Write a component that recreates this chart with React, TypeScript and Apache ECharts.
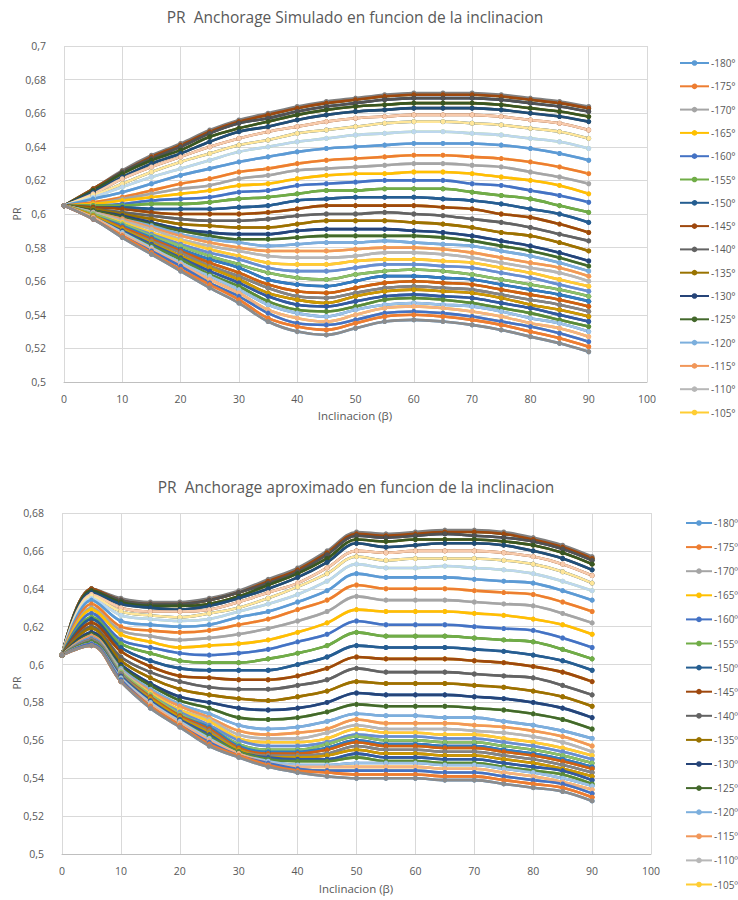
import React, { useEffect, useRef } from "react";
import * as echarts from "echarts";

// Inclination (beta) values on the x axis
const BETA = [0, 5, 10, 15, 20, 25, 30, 35, 40, 45, 50, 55, 60, 65, 70, 75, 80, 85, 90];

// Azimuth of each series (legend order)
const AZIMUTHS = [
  -180, -175, -170, -165, -160, -155, -150, -145, -140, -135, -130, -125, -120, -115, -110, -105,
  -100, -95, -90, -85, -80, -75, -70, -65, -60, -55, -50, -45, -40, -35, -30, -25, -20, -15, -10, -5,
  0, 5, 10, 15, 20, 25, 30, 35, 40, 45, 50, 55, 60, 65, 70, 75, 80, 85, 90, 95, 100, 105, 110, 115,
  120, 125, 130, 135, 140, 145, 150, 155, 160, 165, 170, 175, 180,
];

// Axis ranges
const Y1_MIN = 0.5, Y1_MAX = 0.7, Y2_MIN = 0.5, Y2_MAX = 0.68, Y_STEP = 0.02;
const X_MIN = 0, X_MAX = 100, X_STEP = 10;

// ---------- Chart 1: PR simulated, by |azimuth| ----------
const SIM_000 = [0.605, 0.615, 0.626, 0.635, 0.642, 0.650, 0.656, 0.660, 0.664, 0.667, 0.669, 0.671, 0.672, 0.672, 0.672, 0.671, 0.669, 0.667, 0.664];
const SIM_005 = [0.605, 0.615, 0.625, 0.634, 0.641, 0.649, 0.655, 0.659, 0.663, 0.666, 0.668, 0.670, 0.671, 0.671, 0.671, 0.670, 0.668, 0.666, 0.663];
const SIM_010 = [0.605, 0.614, 0.625, 0.633, 0.640, 0.648, 0.654, 0.657, 0.661, 0.664, 0.666, 0.668, 0.669, 0.669, 0.669, 0.668, 0.666, 0.664, 0.661];
const SIM_015 = [0.605, 0.614, 0.624, 0.632, 0.638, 0.646, 0.651, 0.655, 0.659, 0.662, 0.664, 0.665, 0.666, 0.666, 0.666, 0.665, 0.663, 0.661, 0.658];
const SIM_020 = [0.605, 0.613, 0.622, 0.630, 0.636, 0.643, 0.649, 0.652, 0.656, 0.659, 0.661, 0.662, 0.663, 0.663, 0.663, 0.662, 0.660, 0.658, 0.655];
const SIM_025 = [0.605, 0.612, 0.621, 0.628, 0.634, 0.640, 0.645, 0.649, 0.652, 0.655, 0.657, 0.658, 0.659, 0.659, 0.659, 0.658, 0.656, 0.654, 0.650];
const SIM_030 = [0.605, 0.611, 0.618, 0.625, 0.631, 0.636, 0.641, 0.644, 0.648, 0.650, 0.652, 0.654, 0.655, 0.655, 0.654, 0.653, 0.651, 0.649, 0.645];
const SIM_035 = [0.605, 0.610, 0.616, 0.622, 0.627, 0.632, 0.637, 0.640, 0.643, 0.645, 0.647, 0.648, 0.649, 0.649, 0.648, 0.647, 0.645, 0.643, 0.639];
const SIM_040 = [0.605, 0.609, 0.613, 0.618, 0.623, 0.627, 0.631, 0.634, 0.637, 0.639, 0.640, 0.641, 0.642, 0.642, 0.642, 0.641, 0.639, 0.636, 0.632];
const SIM_045 = [0.605, 0.607, 0.610, 0.614, 0.618, 0.621, 0.625, 0.627, 0.630, 0.632, 0.633, 0.634, 0.635, 0.635, 0.634, 0.633, 0.631, 0.628, 0.624];
const SIM_050 = [0.605, 0.606, 0.609, 0.612, 0.615, 0.617, 0.621, 0.623, 0.626, 0.627, 0.628, 0.629, 0.630, 0.630, 0.629, 0.628, 0.625, 0.622, 0.618];
const SIM_055 = [0.605, 0.606, 0.608, 0.610, 0.612, 0.614, 0.617, 0.618, 0.621, 0.623, 0.624, 0.624, 0.625, 0.625, 0.624, 0.622, 0.620, 0.617, 0.612];
const SIM_060 = [0.605, 0.605, 0.606, 0.608, 0.609, 0.610, 0.613, 0.614, 0.617, 0.618, 0.619, 0.620, 0.620, 0.620, 0.618, 0.617, 0.614, 0.611, 0.607];
const SIM_065 = [0.605, 0.605, 0.605, 0.606, 0.606, 0.607, 0.609, 0.610, 0.612, 0.614, 0.614, 0.615, 0.615, 0.615, 0.613, 0.611, 0.609, 0.605, 0.601];
const SIM_070 = [0.605, 0.604, 0.604, 0.603, 0.603, 0.603, 0.604, 0.605, 0.608, 0.609, 0.610, 0.610, 0.610, 0.609, 0.608, 0.606, 0.603, 0.600, 0.595];
const SIM_075 = [0.605, 0.604, 0.603, 0.601, 0.600, 0.600, 0.600, 0.601, 0.603, 0.605, 0.605, 0.605, 0.605, 0.604, 0.603, 0.600, 0.598, 0.594, 0.589];
const SIM_080 = [0.605, 0.603, 0.601, 0.599, 0.597, 0.596, 0.596, 0.597, 0.599, 0.600, 0.600, 0.601, 0.600, 0.599, 0.597, 0.595, 0.592, 0.588, 0.584];
const SIM_085 = [0.605, 0.603, 0.600, 0.597, 0.594, 0.593, 0.592, 0.592, 0.594, 0.596, 0.596, 0.596, 0.595, 0.594, 0.592, 0.589, 0.587, 0.583, 0.578];
const SIM_090 = [0.605, 0.602, 0.599, 0.595, 0.591, 0.589, 0.588, 0.588, 0.590, 0.591, 0.591, 0.591, 0.590, 0.589, 0.587, 0.584, 0.581, 0.577, 0.572];
const SIM_095 = [0.605, 0.602, 0.598, 0.594, 0.590, 0.587, 0.585, 0.585, 0.586, 0.587, 0.587, 0.587, 0.587, 0.586, 0.584, 0.581, 0.578, 0.574, 0.569];
const SIM_100 = [0.605, 0.601, 0.597, 0.593, 0.588, 0.585, 0.583, 0.581, 0.582, 0.583, 0.583, 0.584, 0.583, 0.582, 0.581, 0.578, 0.575, 0.571, 0.566];
const SIM_105 = [0.605, 0.601, 0.597, 0.592, 0.587, 0.583, 0.580, 0.578, 0.578, 0.578, 0.579, 0.580, 0.580, 0.579, 0.577, 0.574, 0.571, 0.568, 0.563];
const SIM_110 = [0.605, 0.601, 0.596, 0.591, 0.585, 0.581, 0.578, 0.575, 0.574, 0.574, 0.575, 0.577, 0.577, 0.576, 0.574, 0.571, 0.568, 0.565, 0.560];
const SIM_115 = [0.605, 0.600, 0.595, 0.589, 0.584, 0.579, 0.575, 0.571, 0.570, 0.570, 0.572, 0.573, 0.573, 0.572, 0.571, 0.568, 0.565, 0.561, 0.557];
const SIM_120 = [0.605, 0.600, 0.594, 0.588, 0.582, 0.577, 0.573, 0.568, 0.566, 0.566, 0.568, 0.570, 0.570, 0.569, 0.568, 0.565, 0.562, 0.558, 0.554];
const SIM_125 = [0.605, 0.600, 0.594, 0.587, 0.581, 0.575, 0.570, 0.565, 0.562, 0.561, 0.564, 0.566, 0.567, 0.566, 0.564, 0.561, 0.558, 0.555, 0.551];
const SIM_130 = [0.605, 0.599, 0.593, 0.586, 0.579, 0.573, 0.568, 0.561, 0.558, 0.557, 0.560, 0.563, 0.563, 0.562, 0.561, 0.558, 0.555, 0.552, 0.548];
const SIM_135 = [0.605, 0.599, 0.592, 0.585, 0.578, 0.571, 0.565, 0.558, 0.554, 0.553, 0.556, 0.559, 0.560, 0.559, 0.558, 0.555, 0.552, 0.549, 0.545];
const SIM_140 = [0.605, 0.599, 0.591, 0.584, 0.577, 0.569, 0.563, 0.556, 0.551, 0.550, 0.553, 0.556, 0.557, 0.556, 0.555, 0.552, 0.549, 0.546, 0.542];
const SIM_145 = [0.605, 0.599, 0.591, 0.583, 0.575, 0.568, 0.561, 0.553, 0.549, 0.547, 0.551, 0.554, 0.555, 0.554, 0.553, 0.550, 0.546, 0.543, 0.539];
const SIM_150 = [0.605, 0.598, 0.590, 0.582, 0.574, 0.566, 0.559, 0.551, 0.546, 0.545, 0.548, 0.551, 0.552, 0.551, 0.550, 0.547, 0.544, 0.540, 0.536];
const SIM_155 = [0.605, 0.598, 0.589, 0.581, 0.573, 0.564, 0.557, 0.548, 0.543, 0.542, 0.545, 0.549, 0.550, 0.549, 0.547, 0.544, 0.541, 0.537, 0.533];
const SIM_160 = [0.605, 0.598, 0.589, 0.580, 0.571, 0.563, 0.555, 0.546, 0.541, 0.539, 0.543, 0.546, 0.547, 0.546, 0.545, 0.542, 0.538, 0.535, 0.530];
const SIM_165 = [0.605, 0.598, 0.588, 0.579, 0.570, 0.561, 0.553, 0.543, 0.538, 0.536, 0.540, 0.544, 0.545, 0.544, 0.542, 0.539, 0.535, 0.532, 0.527];
const SIM_170 = [0.605, 0.597, 0.587, 0.578, 0.569, 0.559, 0.551, 0.541, 0.535, 0.534, 0.537, 0.541, 0.542, 0.541, 0.539, 0.536, 0.533, 0.529, 0.524];
const SIM_175 = [0.605, 0.597, 0.587, 0.577, 0.567, 0.558, 0.549, 0.538, 0.533, 0.531, 0.535, 0.539, 0.540, 0.539, 0.537, 0.534, 0.530, 0.526, 0.521];
const SIM_180 = [0.605, 0.597, 0.586, 0.576, 0.566, 0.556, 0.547, 0.536, 0.530, 0.528, 0.532, 0.536, 0.537, 0.536, 0.534, 0.531, 0.527, 0.523, 0.518];

// ---------- Chart 2: PR approximated, by |azimuth| ----------
const APX_000 = [0.605, 0.640, 0.635, 0.633, 0.633, 0.635, 0.639, 0.645, 0.651, 0.660, 0.670, 0.669, 0.670, 0.671, 0.671, 0.670, 0.667, 0.663, 0.657];
const APX_005 = [0.605, 0.640, 0.634, 0.632, 0.632, 0.634, 0.638, 0.644, 0.650, 0.659, 0.669, 0.668, 0.669, 0.670, 0.670, 0.669, 0.666, 0.662, 0.656];
const APX_010 = [0.605, 0.639, 0.634, 0.632, 0.632, 0.634, 0.638, 0.643, 0.649, 0.658, 0.668, 0.667, 0.668, 0.669, 0.668, 0.667, 0.665, 0.661, 0.655];
const APX_015 = [0.605, 0.639, 0.633, 0.631, 0.631, 0.632, 0.636, 0.642, 0.648, 0.656, 0.666, 0.665, 0.666, 0.666, 0.666, 0.665, 0.663, 0.659, 0.653];
const APX_020 = [0.605, 0.638, 0.632, 0.630, 0.629, 0.631, 0.635, 0.640, 0.646, 0.654, 0.664, 0.662, 0.663, 0.664, 0.664, 0.663, 0.660, 0.656, 0.650];
const APX_025 = [0.605, 0.637, 0.630, 0.628, 0.628, 0.629, 0.633, 0.638, 0.643, 0.651, 0.660, 0.659, 0.660, 0.660, 0.660, 0.659, 0.657, 0.653, 0.647];
const APX_030 = [0.605, 0.636, 0.628, 0.626, 0.625, 0.627, 0.630, 0.635, 0.641, 0.648, 0.657, 0.655, 0.656, 0.656, 0.656, 0.655, 0.653, 0.649, 0.643];
const APX_035 = [0.605, 0.635, 0.626, 0.624, 0.623, 0.624, 0.628, 0.632, 0.637, 0.644, 0.653, 0.651, 0.651, 0.652, 0.651, 0.650, 0.648, 0.644, 0.639];
const APX_040 = [0.605, 0.634, 0.623, 0.621, 0.620, 0.621, 0.625, 0.628, 0.633, 0.639, 0.648, 0.646, 0.646, 0.646, 0.645, 0.644, 0.643, 0.639, 0.634];
const APX_045 = [0.605, 0.632, 0.620, 0.618, 0.617, 0.618, 0.621, 0.624, 0.629, 0.634, 0.642, 0.640, 0.640, 0.640, 0.639, 0.638, 0.637, 0.633, 0.628];
const APX_050 = [0.605, 0.630, 0.618, 0.615, 0.613, 0.614, 0.616, 0.619, 0.623, 0.628, 0.636, 0.634, 0.634, 0.634, 0.633, 0.632, 0.631, 0.627, 0.622];
const APX_055 = [0.605, 0.629, 0.616, 0.612, 0.609, 0.610, 0.611, 0.613, 0.617, 0.622, 0.629, 0.628, 0.628, 0.628, 0.627, 0.626, 0.624, 0.621, 0.616];
const APX_060 = [0.605, 0.627, 0.613, 0.609, 0.606, 0.605, 0.606, 0.608, 0.612, 0.616, 0.623, 0.621, 0.621, 0.621, 0.620, 0.619, 0.618, 0.614, 0.609];
const APX_065 = [0.605, 0.625, 0.611, 0.606, 0.602, 0.601, 0.601, 0.603, 0.606, 0.610, 0.617, 0.615, 0.615, 0.615, 0.614, 0.613, 0.612, 0.608, 0.603];
const APX_070 = [0.605, 0.624, 0.609, 0.602, 0.598, 0.597, 0.597, 0.597, 0.600, 0.604, 0.610, 0.609, 0.609, 0.609, 0.608, 0.607, 0.605, 0.602, 0.597];
const APX_075 = [0.605, 0.622, 0.607, 0.599, 0.594, 0.593, 0.592, 0.592, 0.594, 0.598, 0.604, 0.603, 0.603, 0.603, 0.602, 0.601, 0.599, 0.596, 0.591];
const APX_080 = [0.605, 0.620, 0.604, 0.596, 0.591, 0.588, 0.587, 0.587, 0.589, 0.592, 0.598, 0.596, 0.596, 0.596, 0.595, 0.594, 0.593, 0.589, 0.584];
const APX_085 = [0.605, 0.619, 0.602, 0.593, 0.587, 0.584, 0.582, 0.581, 0.583, 0.586, 0.591, 0.590, 0.590, 0.590, 0.589, 0.588, 0.586, 0.583, 0.578];
const APX_090 = [0.605, 0.617, 0.600, 0.590, 0.583, 0.580, 0.577, 0.576, 0.577, 0.580, 0.585, 0.584, 0.584, 0.584, 0.583, 0.582, 0.580, 0.577, 0.572];
const APX_095 = [0.605, 0.616, 0.599, 0.589, 0.581, 0.577, 0.572, 0.571, 0.572, 0.575, 0.579, 0.578, 0.578, 0.578, 0.577, 0.576, 0.574, 0.571, 0.566];
const APX_100 = [0.605, 0.615, 0.598, 0.587, 0.579, 0.574, 0.568, 0.566, 0.567, 0.570, 0.574, 0.573, 0.573, 0.572, 0.572, 0.570, 0.568, 0.565, 0.561];
const APX_105 = [0.605, 0.615, 0.597, 0.586, 0.578, 0.572, 0.565, 0.563, 0.564, 0.566, 0.571, 0.569, 0.569, 0.569, 0.568, 0.567, 0.565, 0.562, 0.557];
const APX_110 = [0.605, 0.614, 0.597, 0.585, 0.576, 0.571, 0.563, 0.561, 0.561, 0.564, 0.568, 0.566, 0.566, 0.566, 0.565, 0.564, 0.562, 0.559, 0.554];
const APX_115 = [0.605, 0.614, 0.596, 0.585, 0.576, 0.570, 0.561, 0.559, 0.559, 0.561, 0.566, 0.564, 0.564, 0.563, 0.563, 0.561, 0.559, 0.556, 0.552];
const APX_120 = [0.605, 0.614, 0.596, 0.584, 0.575, 0.568, 0.560, 0.557, 0.557, 0.559, 0.563, 0.562, 0.562, 0.561, 0.561, 0.559, 0.557, 0.554, 0.550];
const APX_125 = [0.605, 0.613, 0.596, 0.584, 0.574, 0.567, 0.558, 0.555, 0.555, 0.558, 0.562, 0.560, 0.560, 0.559, 0.559, 0.557, 0.555, 0.552, 0.548];
const APX_130 = [0.605, 0.613, 0.595, 0.583, 0.573, 0.567, 0.557, 0.554, 0.554, 0.556, 0.560, 0.558, 0.558, 0.557, 0.557, 0.555, 0.553, 0.550, 0.546];
const APX_135 = [0.605, 0.613, 0.595, 0.583, 0.573, 0.566, 0.556, 0.553, 0.553, 0.555, 0.559, 0.557, 0.557, 0.556, 0.556, 0.554, 0.552, 0.549, 0.545];
const APX_140 = [0.605, 0.613, 0.595, 0.582, 0.572, 0.565, 0.555, 0.552, 0.552, 0.553, 0.557, 0.555, 0.555, 0.554, 0.554, 0.552, 0.550, 0.547, 0.543];
const APX_145 = [0.605, 0.612, 0.594, 0.582, 0.572, 0.564, 0.555, 0.551, 0.551, 0.552, 0.555, 0.553, 0.553, 0.552, 0.552, 0.550, 0.548, 0.545, 0.541];
const APX_150 = [0.605, 0.612, 0.594, 0.581, 0.571, 0.563, 0.554, 0.551, 0.550, 0.550, 0.553, 0.551, 0.551, 0.550, 0.550, 0.548, 0.546, 0.544, 0.539];
const APX_155 = [0.605, 0.612, 0.593, 0.580, 0.570, 0.562, 0.554, 0.550, 0.549, 0.549, 0.551, 0.549, 0.549, 0.548, 0.548, 0.546, 0.544, 0.542, 0.537];
const APX_160 = [0.605, 0.611, 0.593, 0.580, 0.570, 0.561, 0.553, 0.549, 0.547, 0.547, 0.548, 0.548, 0.548, 0.547, 0.547, 0.545, 0.543, 0.540, 0.536];
const APX_165 = [0.605, 0.611, 0.592, 0.579, 0.569, 0.560, 0.553, 0.548, 0.546, 0.546, 0.546, 0.546, 0.546, 0.545, 0.545, 0.543, 0.541, 0.538, 0.534];
const APX_170 = [0.605, 0.611, 0.592, 0.578, 0.568, 0.559, 0.552, 0.548, 0.545, 0.544, 0.544, 0.544, 0.544, 0.543, 0.543, 0.541, 0.539, 0.537, 0.532];
const APX_175 = [0.605, 0.610, 0.591, 0.578, 0.568, 0.558, 0.552, 0.547, 0.544, 0.543, 0.542, 0.542, 0.542, 0.541, 0.541, 0.539, 0.537, 0.535, 0.530];
const APX_180 = [0.605, 0.610, 0.591, 0.577, 0.567, 0.557, 0.551, 0.546, 0.543, 0.541, 0.540, 0.540, 0.540, 0.539, 0.539, 0.537, 0.535, 0.533, 0.528];

const SIM_BY_ABS_AZ = [
  SIM_000, SIM_005, SIM_010, SIM_015, SIM_020, SIM_025, SIM_030, SIM_035, SIM_040, SIM_045,
  SIM_050, SIM_055, SIM_060, SIM_065, SIM_070, SIM_075, SIM_080, SIM_085, SIM_090, SIM_095,
  SIM_100, SIM_105, SIM_110, SIM_115, SIM_120, SIM_125, SIM_130, SIM_135, SIM_140, SIM_145,
  SIM_150, SIM_155, SIM_160, SIM_165, SIM_170, SIM_175, SIM_180,
];
const APX_BY_ABS_AZ = [
  APX_000, APX_005, APX_010, APX_015, APX_020, APX_025, APX_030, APX_035, APX_040, APX_045,
  APX_050, APX_055, APX_060, APX_065, APX_070, APX_075, APX_080, APX_085, APX_090, APX_095,
  APX_100, APX_105, APX_110, APX_115, APX_120, APX_125, APX_130, APX_135, APX_140, APX_145,
  APX_150, APX_155, APX_160, APX_165, APX_170, APX_175, APX_180,
];

// Office-style palette for the negative-azimuth series (shown in the legend)
const PALETTE_NEG = [
  "#5B9BD5", "#ED7D31", "#A5A5A5", "#FFC000", "#4472C4", "#70AD47",
  "#255E91", "#9E480E", "#636363", "#997300", "#264478", "#43682B",
  "#7CAFDD", "#F1975A", "#B7B7B7", "#FFCD33", "#698ED0", "#8CC168",
  "#327DC2", "#D26012", "#848484", "#CC9A00", "#335AA1", "#5A8A39",
  "#9DC3E6", "#F4B183", "#C9C9C9", "#FFD966", "#8FAADC", "#A9D18E",
  "#1F4E79", "#843C0C", "#525252", "#7F6000", "#203864", "#385723",
];
// Colours of the 0..180 series, drawn on top
const PALETTE_POS = [
  "#7F7F7F", "#9E480E", "#525252", "#385723", "#1F4E79", "#F8CBAD", "#FFE699", "#BDD7EE", "#5B9BD5",
  "#ED7D31", "#A5A5A5", "#FFC000", "#4472C4", "#70AD47",
  "#255E91", "#9E480E", "#636363", "#997300", "#264478", "#43682B",
  "#7CAFDD", "#F1975A", "#B7B7B7", "#FFCD33", "#698ED0", "#8CC168",
  "#327DC2", "#D26012", "#848484", "#CC9A00", "#335AA1", "#5A8A39",
  "#9DC3E6", "#F4B183", "#4472C4", "#ED7D31", "#8C8C8C",
];

const TITLE_1 = "PR  Anchorage Simulado en funcion de la inclinacion";
const TITLE_2 = "PR  Anchorage aproximado en funcion de la inclinacion";
const X_NAME = "Inclinacion (\u03b2)";
const Y_NAME = "PR";
const DEG_1 = "\u00b0";
const DEG_2 = "\u00ba";
const LEGEND_COUNT = 16;

const FONT = "'Open Sans', 'Noto Sans', sans-serif";
const TXT = "#595959";
const GRID_LINE = "#D9D9D9";

function colorFor(i: number): string {
  return i < 36 ? PALETTE_NEG[i] : PALETTE_POS[i - 36];
}

function buildSeries(levels: number[][], deg: string, axis: number) {
  return AZIMUTHS.map((az, i) => {
    const vals = levels[Math.abs(az) / 5];
    const c = colorFor(i);
    return {
      name: `${az}${deg}`,
      type: "line",
      xAxisIndex: axis,
      yAxisIndex: axis,
      data: BETA.map((b, k) => [b, vals[k]]),
      smooth: 0.35,
      symbol: "circle",
      symbolSize: 5,
      showSymbol: true,
      lineStyle: { width: 2.6, color: c },
      itemStyle: { color: c },
      emphasis: { disabled: true },
    };
  });
}

const yFmt = (v: number) => String(parseFloat(v.toFixed(2))).replace(".", ",");

function makeYAxis(gridIndex: number, min: number, max: number) {
  return {
    type: "value",
    gridIndex,
    min,
    max,
    interval: Y_STEP,
    axisLine: { show: false },
    axisTick: { show: false },
    splitLine: { show: true, lineStyle: { color: GRID_LINE, width: 1 } },
    axisLabel: { formatter: yFmt, color: TXT, fontSize: 10.5, fontFamily: FONT, margin: 18 },
  };
}
function makeXAxis(gridIndex: number) {
  return {
    type: "value",
    gridIndex,
    min: X_MIN,
    max: X_MAX,
    interval: X_STEP,
    axisLine: { show: true, onZero: false, lineStyle: { color: "#BFBFBF", width: 1 } },
    axisTick: { show: false },
    splitLine: { show: true, lineStyle: { color: GRID_LINE, width: 1 } },
    axisLabel: { color: TXT, fontSize: 10.5, fontFamily: FONT, margin: 11 },
  };
}

export default function App() {
  const ref = useRef<HTMLDivElement>(null);
  useEffect(() => {
    if (!ref.current) return;
    const chart = echarts.init(ref.current, null, { renderer: "svg" });
    const legendNames1 = AZIMUTHS.slice(0, LEGEND_COUNT).map((a) => `${a}${DEG_1}`);
    const legendNames2 = AZIMUTHS.slice(0, LEGEND_COUNT).map((a) => `${a}${DEG_2}`);
    const textCommon = { fill: TXT, fontFamily: FONT };
    const legendText = { color: TXT, fontSize: 10, fontFamily: FONT, padding: [0, 0, 0, -3] };
    chart.setOption({
      animation: false,
      backgroundColor: "#FFFFFF",
      textStyle: { fontFamily: FONT },
      grid: [
        { left: 64, top: 46, width: 583, height: 336 },
        { left: 62, top: 513, width: 589, height: 341 },
      ],
      xAxis: [makeXAxis(0), makeXAxis(1)],
      yAxis: [makeYAxis(0, Y1_MIN, Y1_MAX), makeYAxis(1, Y2_MIN, Y2_MAX)],
      legend: [
        {
          data: legendNames1,
          orient: "vertical",
          left: 674,
          top: 53,
          itemWidth: 29,
          itemHeight: 7,
          itemGap: 13.3,
          selectedMode: false,
          textStyle: legendText,
        },
        {
          data: legendNames2,
          orient: "vertical",
          left: 680,
          top: 513,
          itemWidth: 26,
          itemHeight: 7,
          itemGap: 14.1,
          selectedMode: false,
          textStyle: legendText,
        },
      ],
      graphic: [
        { type: "text", x: 355, y: 17, style: { ...textCommon, text: TITLE_1, fontSize: 15.5, textAlign: "center", textVerticalAlign: "middle" } },
        { type: "text", x: 356, y: 487, style: { ...textCommon, text: TITLE_2, fontSize: 15.5, textAlign: "center", textVerticalAlign: "middle" } },
        { type: "text", x: 355, y: 415, style: { ...textCommon, text: X_NAME, fontSize: 11.5, textAlign: "center", textVerticalAlign: "middle" } },
        { type: "text", x: 356, y: 888, style: { ...textCommon, text: X_NAME, fontSize: 11.5, textAlign: "center", textVerticalAlign: "middle" } },
        { type: "text", x: 17, y: 214, rotation: Math.PI / 2, style: { ...textCommon, text: Y_NAME, fontSize: 10.5, textAlign: "center", textVerticalAlign: "middle" } },
        { type: "text", x: 17, y: 683, rotation: Math.PI / 2, style: { ...textCommon, text: Y_NAME, fontSize: 10.5, textAlign: "center", textVerticalAlign: "middle" } },
      ],
      series: [...buildSeries(SIM_BY_ABS_AZ, DEG_1, 0), ...buildSeries(APX_BY_ABS_AZ, DEG_2, 1)],
    });
    return () => chart.dispose();
  }, []);
  return (
    <div
      ref={ref}
      style={{ position: "absolute", left: 0, top: 0, width: 738, height: 900, background: "#fff" }}
    />
  );
}
